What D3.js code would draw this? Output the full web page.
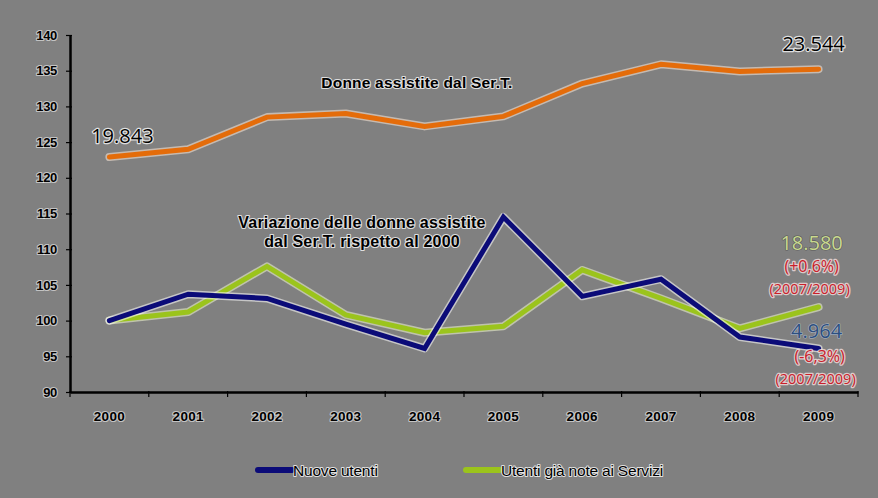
<!DOCTYPE html>
<html>
<head>
<meta charset="utf-8">
<script src="https://cdn.jsdelivr.net/npm/d3@7"></script>
<style>
  html, body { margin: 0; padding: 0; background: #808080; }
  svg { display: block; }
  .halo { paint-order: stroke; stroke-linejoin: round; }
</style>
</head>
<body>
<svg id="chart" width="878" height="498"></svg>
<script>
const years = ["2000","2001","2002","2003","2004","2005","2006","2007","2008","2009"];
const donneAssistite = [122.9, 124.0, 128.5, 129.0, 127.2, 128.6, 133.2, 135.9, 134.9, 135.2];
const nuoveUtenti = [100.0, 103.7, 103.1, 99.5, 96.1, 114.5, 103.4, 105.8, 97.7, 96.1];
const utentiGiaNote = [100.0, 101.2, 107.6, 100.8, 98.3, 99.2, 107.1, 103.1, 98.9, 101.9];
const yTicks = [90, 95, 100, 105, 110, 115, 120, 125, 130, 135, 140];
const legendLabels = ["Nuove utenti", "Utenti già note ai Servizi"];
const endLabels = {
  first: "19.843", last: "23.544",
  green: ["18.580", "(+0,6%)", "(2007/2009)"],
  blue: ["4.964", "(-6,3%)", "(2007/2009)"]
};
const titleTop = "Donne assistite dal Ser.T.";
const titleMid = ["Variazione delle donne assistite", "dal Ser.T. rispetto al 2000"];

const svg = d3.select("#chart");
svg.append("rect").attr("width", 878).attr("height", 498).attr("fill", "#808080");

const x = d3.scaleBand().domain(years).range([70, 858]).padding(0);
const y = d3.scaleLinear().domain([90, 140]).range([392, 35]);
const cx = d => x(d) + x.bandwidth() / 2;
const SANS = "Liberation Sans, Arial, sans-serif";
const NUMF = "Open Sans, DejaVu Sans, sans-serif";

// Y axis
const yAxis = svg.append("g").attr("transform", "translate(70,0)")
  .call(d3.axisLeft(y).tickValues(yTicks).tickSize(4).tickPadding(9).tickSizeOuter(0));
yAxis.select(".domain").attr("stroke", "#000").attr("stroke-width", 2.5);
yAxis.selectAll(".tick line").attr("stroke", "#000").attr("stroke-width", 1.2).attr("x2", -4).attr("x1", 2);
yAxis.selectAll(".tick text")
  .attr("class", "halo")
  .attr("font-family", SANS)
  .attr("font-size", 13).attr("font-weight", "bold").attr("letter-spacing", -0.3)
  .attr("fill", "#000").attr("stroke", "#fff").attr("stroke-width", 2.2).attr("stroke-opacity", 0.55);

// X axis
const xAxis = svg.append("g").attr("transform", "translate(0,392)")
  .call(d3.axisBottom(x).tickSize(0).tickPadding(19).tickSizeOuter(0));
xAxis.select(".domain").attr("stroke", "#000").attr("stroke-width", 2.5);
xAxis.selectAll(".tick text")
  .attr("class", "halo")
  .attr("font-family", SANS)
  .attr("font-size", 13.5).attr("font-weight", "bold").attr("letter-spacing", 0.3)
  .attr("fill", "#000").attr("stroke", "#fff").attr("stroke-width", 2.2).attr("stroke-opacity", 0.55);
const bounds = years.map(d => x(d)).concat([x.range()[1]]);
xAxis.selectAll(".btick").data(bounds).enter().append("line")
  .attr("x1", d => d).attr("x2", d => d).attr("y1", -1).attr("y2", 5)
  .attr("stroke", "#000").attr("stroke-width", 1.2);

// Lines
const line = d3.line().x((d, i) => cx(years[i])).y(d => y(d));
function drawSeries(data, color, halo) {
  svg.append("path").datum(data).attr("d", line)
    .attr("fill", "none").attr("stroke", halo).attr("stroke-width", 8)
    .attr("stroke-opacity", 0.55).attr("stroke-linejoin", "round").attr("stroke-linecap", "round");
  svg.append("path").datum(data).attr("d", line)
    .attr("fill", "none").attr("stroke", color).attr("stroke-width", 5)
    .attr("stroke-linejoin", "miter").attr("stroke-linecap", "round");
}
drawSeries(donneAssistite, "#e46c0a", "#fde9d9");
drawSeries(utentiGiaNote, "#9bc41c", "#f2f9d0");
drawSeries(nuoveUtenti, "#0b0b78", "#ffffff");

// Text helper
function txt(s, px, py, opts) {
  const o = Object.assign({size: 13, weight: "bold", fill: "#000", anchor: "middle", halo: "#fff", hw: 2.2, family: SANS, ls: 0}, opts || {});
  return svg.append("text").attr("class", "halo")
    .attr("x", px).attr("y", py).attr("text-anchor", o.anchor)
    .attr("dominant-baseline", "central")
    .attr("font-family", o.family).attr("font-size", o.size).attr("font-weight", o.weight)
    .attr("letter-spacing", o.ls)
    .attr("fill", o.fill).attr("stroke", o.halo).attr("stroke-width", o.hw).attr("stroke-opacity", 0.75)
    .text(s);
}

txt(titleTop, 417, 82, {size: 15.5, ls: 0.2});
txt(titleMid[0], 362, 222, {size: 16, ls: 0.2});
txt(titleMid[1], 362, 241, {size: 16, ls: 0.2});

const num = {size: 20, weight: "normal", family: NUMF, hw: 2.5};
txt(endLabels.first, cx(years[0]) + 13, y(donneAssistite[0]) - 22, num);
txt(endLabels.last, cx(years[9]) - 5, y(donneAssistite[9]) - 26, num);

const cR = "#c8202a";
const red1 = {size: 16, weight: "normal", fill: cR, family: NUMF, halo: "#fbe4e4", hw: 2.5};
const red2 = {size: 14.5, weight: "normal", fill: cR, family: NUMF, halo: "#fbe4e4", hw: 2.5};
txt(endLabels.green[0], cx(years[9]) - 7, 242, Object.assign({}, num, {fill: "#c9d98f", halo: "#4a4a4a", hw: 1.2}));
txt(endLabels.green[1], cx(years[9]) - 7, 266, red1);
txt(endLabels.green[2], cx(years[9]) - 9, 288, red2);
txt(endLabels.blue[0], cx(years[9]) - 2, 330, Object.assign({}, num, {fill: "#2c4f80", halo: "#bcc8da", hw: 1.2}));
txt(endLabels.blue[1], cx(years[9]) + 1, 356, red1);
txt(endLabels.blue[2], cx(years[9]) - 3, 378, red2);

// Legend
const legend = [
  {label: legendLabels[0], color: "#0b0b78", x: 258},
  {label: legendLabels[1], color: "#9bc41c", x: 466}
];
legend.forEach(l => {
  svg.append("line").attr("x1", l.x).attr("x2", l.x + 34).attr("y1", 470).attr("y2", 470)
    .attr("stroke", l.color).attr("stroke-width", 6).attr("stroke-linecap", "round");
  txt(l.label, l.x + 35, 470, {size: 15.5, weight: "normal", anchor: "start", hw: 2, ls: -0.2});
});
</script>
</body>
</html>
